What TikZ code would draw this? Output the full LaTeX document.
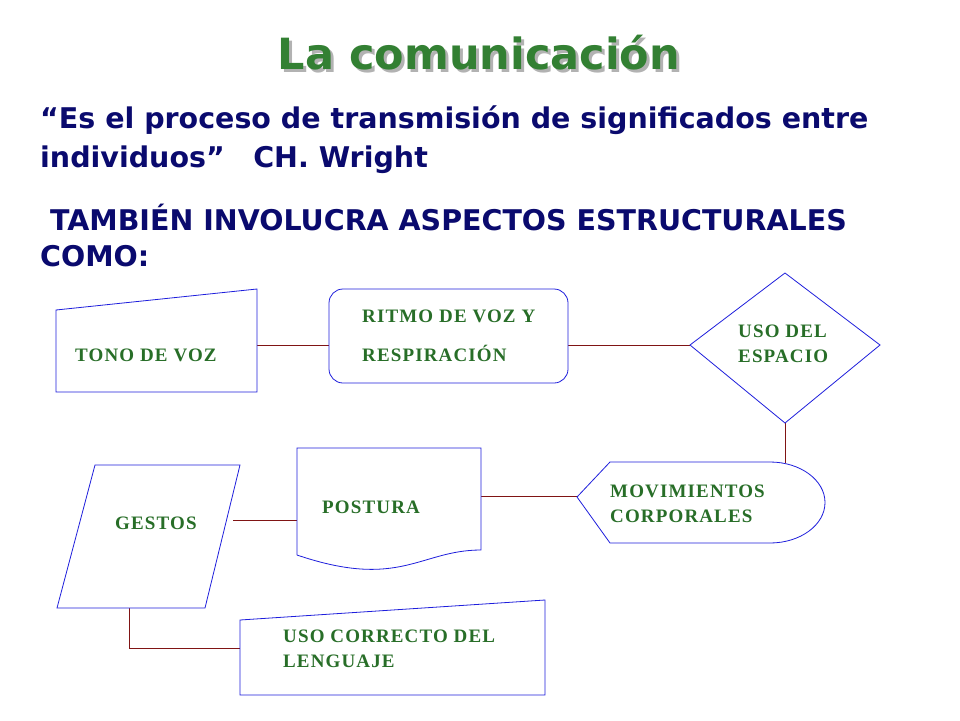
\documentclass[tikz,border=0pt]{standalone}
\usepackage{fontspec}
\setmainfont{Liberation Serif}
\newfontfamily\vsans{DejaVu Sans}
\newfontfamily\lblfont[LetterSpace=6]{Liberation Serif}
\definecolor{tgreen}{RGB}{51,128,51}
\definecolor{tblue}{RGB}{10,10,110}
\definecolor{lgreen}{RGB}{40,110,40}
\definecolor{sblue}{RGB}{30,30,220}
\definecolor{conn}{RGB}{128,20,20}
\begin{document}
\begin{tikzpicture}[x=1pt,y=-1pt,
  shp/.style={draw=sblue,line width=0.8pt,fill=white},
  lbl/.style={text=lgreen,font=\lblfont\bfseries\fontsize{19}{25}\selectfont,align=left,anchor=west,inner sep=0},
  con/.style={draw=conn,line width=0.8pt},
  body/.style={text=tblue,font=\vsans\bfseries\fontsize{28.5}{36}\selectfont,anchor=west,inner sep=0}]
\useasboundingbox[fill=white] (0,0) rectangle (960,720);
\node[text=gray!60,font=\vsans\bfseries\fontsize{43}{48}\selectfont] at (482,56) {La comunicación};
\node[text=tgreen,font=\vsans\bfseries\fontsize{43}{48}\selectfont] (title) at (479,53) {La comunicación};
\node[body] (q1) at (40,120) {“Es el proceso de transmisión de significados entre};
\node[body] (q2) at (40,160) {individuos”\quad CH. Wright};
\node[body] (t1) at (40,217) {\ TAMBIÉN INVOLUCRA ASPECTOS ESTRUCTURALES};
\node[body] (t2) at (40,256) {COMO:};
% connectors
\coordinate (a1) at (257,345); \coordinate (b1) at (329,345);
\coordinate (b2) at (568,345); \coordinate (c1) at (690,345);
\coordinate (c2) at (785,423); \coordinate (d1) at (785,463);
\coordinate (e1) at (481,496); \coordinate (d2) at (577,496);
\coordinate (f1) at (233,520); \coordinate (e2) at (297,520);
\coordinate (f2) at (129,608); \coordinate (g1) at (240,648);
\draw[con] (a1) -- (b1); \draw[con] (b2) -- (c1); \draw[con] (c2) -- (d1);
\draw[con] (e1) -- (d2); \draw[con] (f1) -- (e2); \draw[con] (f2) |- (g1);
% shapes
\draw[shp] (56,310) -- (257,289) -- (257,392) -- (56,392) -- cycle;
\node[lbl] (tono) at (75,355) {TONO DE VOZ};
\draw[shp,rounded corners=14pt] (329,289) rectangle (568,383);
\node[lbl] (ritmo) at (362,316) {RITMO DE VOZ Y};
\node[lbl] (resp) at (362,353) {RESPIRACIÓN};
\draw[shp] (785,273) -- (880,345) -- (785,423) -- (690,345) -- cycle;
\node[lbl] (uso) at (738,344) {USO DEL\\ESPACIO};
\draw[shp] (577,497) -- (610,462) -- (770,462) arc[start angle=90,end angle=-90,x radius=55,y radius=-40.5] -- (610,543) -- cycle;
\node[lbl] (mov) at (610,504) {MOVIMIENTOS\\CORPORALES};
\draw[shp] (297,555) -- (297,448) -- (481,448) -- (481,550) .. controls (420,550) and (400,590) .. (297,555);
\node[lbl] (post) at (322,507) {POSTURA};
\draw[shp] (95,465) -- (240,465) -- (205,608) -- (57,608) -- cycle;
\node[lbl] (gest) at (115,523) {GESTOS};
\draw[shp] (240,620) -- (545,600) -- (545,695) -- (240,695) -- cycle;
\node[lbl] (corr) at (283,649) {USO CORRECTO DEL\\LENGUAJE};
\end{tikzpicture}
\end{document}
